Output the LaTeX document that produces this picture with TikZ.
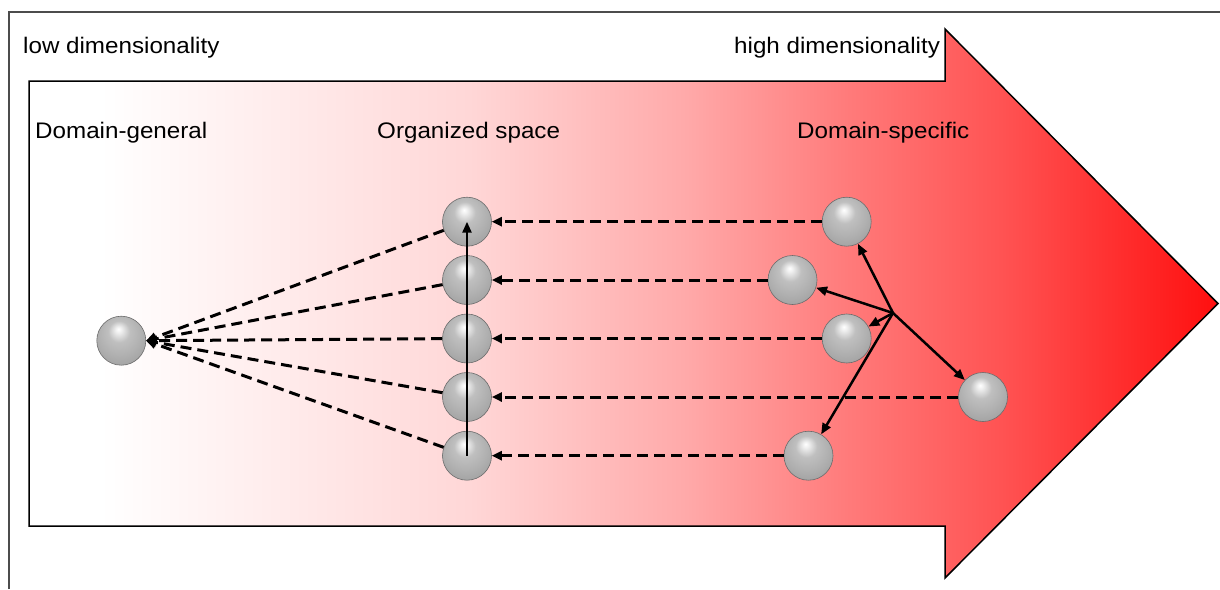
\documentclass[tikz,border=0pt]{standalone}
\usepackage{fontspec}
\setmainfont{Liberation Sans}[FakeStretch=1.075]
\usetikzlibrary{arrows.meta}
\pgfdeclarehorizontalshading{arrowshade}{100bp}{%
  color(0bp)=(white);
  color(25bp)=(white);
  color(28bp)=(white);
  color(43.5bp)=(rgb,255:red,255;green,215;blue,215);
  color(52.5bp)=(rgb,255:red,255;green,170;blue,170);
  color(59.5bp)=(rgb,255:red,255;green,122;blue,122);
  color(66bp)=(rgb,255:red,255;green,82;blue,82);
  color(75bp)=(rgb,255:red,255;green,15;blue,15);
  color(100bp)=(rgb,255:red,255;green,15;blue,15)}
\pgfdeclareradialshading{sphereshade}{\pgfpoint{-3bp}{12bp}}{%
  color(0bp)=(white);
  color(3bp)=(gray!12!white);
  color(11bp)=(gray!50!white);
  color(22bp)=(gray!62!white);
  color(32bp)=(gray!74!white);
  color(40bp)=(gray!85!white);
  color(50bp)=(gray)}
\tikzset{
  sphere/.style={circle, minimum size=49pt, inner sep=0pt, shading=sphereshade,
    draw=gray!85!black, line width=0.6pt},
  lbl/.style={anchor=base west, inner sep=0pt, font=\fontsize{22.5}{27}\selectfont},
  dasharrow/.style={line width=3pt, dash pattern=on 11pt off 6pt,
    -{Triangle[length=10pt,width=9pt]}},
  solidarrow/.style={line width=2.5pt, -{Triangle[length=11pt,width=9pt]}},
}
\begin{document}
\begin{tikzpicture}[x=1pt,y=-1pt]
\useasboundingbox (0,0) rectangle (1220,589);
% frame
\draw[gray!60!black, line width=1.3pt] (9,589) -- (9,12) -- (1220,12);
% big arrow
\path[shading=arrowshade, draw=black, line width=1.5pt]
  (29,81) -- (945,81) -- (945,29) -- (1218,303.5) -- (945,578) -- (945,526) -- (29,526) -- cycle;
% labels
\node[lbl] (t1) at (23,53.3) {low dimensionality};
\node[lbl] (t2) at (734,53.3) {high dimensionality};
\node[lbl] (t3) at (35,138.3) {Domain-general};
\node[lbl] (t4) at (377,138.3) {Organized space};
\node[lbl] (t5) at (797,138.3) {Domain-specific};
% spheres
\node[sphere] (dg) at (121.3,340.7) {};
\node[sphere] (o1) at (467,221.7) {};
\node[sphere] (o2) at (467,280) {};
\node[sphere] (o3) at (467,338.5) {};
\node[sphere] (o4) at (467,397) {};
\node[sphere] (o5) at (467,455.7) {};
\node[sphere] (s1) at (846.7,221.7) {};
\node[sphere] (s2) at (792.5,280) {};
\node[sphere] (s3) at (846.7,338.5) {};
\node[sphere] (s4) at (983,397) {};
\node[sphere] (s5) at (808.5,455.7) {};
\coordinate (hub) at (893,313);
% dashed arrows
\foreach \i in {1,...,5}{
  \draw[dasharrow] (s\i) -- (o\i);
  \draw[dasharrow] (o\i) -- (dg.east);
}
% solid arrows
\draw[solidarrow] (o5.center) -- (o1.center);
\foreach \i in {1,...,5}{
  \draw[solidarrow] (hub) -- (s\i);
}
\end{tikzpicture}
\end{document}
